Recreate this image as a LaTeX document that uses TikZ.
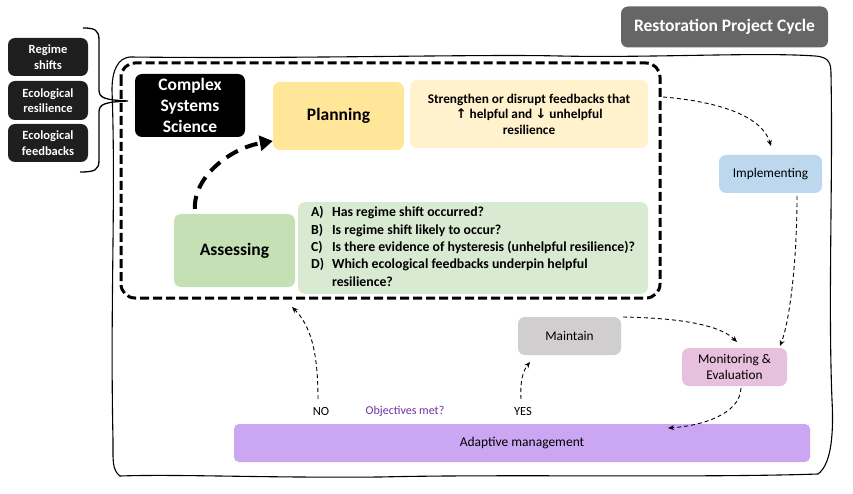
\documentclass[tikz,border=0pt]{standalone}
\usepackage{fontspec}
\setmainfont{Carlito}
\newfontfamily\arrowfont{DejaVu Sans}
\usetikzlibrary{arrows.meta}
\definecolor{titlegray}{HTML}{666666}
\definecolor{planfill}{HTML}{FFE699}
\definecolor{planlight}{HTML}{FFF2CC}
\definecolor{assfill}{HTML}{C5E0B4}
\definecolor{asslight}{HTML}{D9EAD3}
\definecolor{implfill}{HTML}{BDD7EE}
\definecolor{maintfill}{HTML}{D0CECE}
\definecolor{monfill}{HTML}{E6C0DC}
\definecolor{adaptfill}{HTML}{CBA6F3}
\definecolor{objpurple}{HTML}{7030A0}
\tikzset{
  box/.style={rounded corners=7pt, inner sep=2pt, align=center, text=black},
  blackbox/.style={box, fill=black!88, text=white, font=\bfseries\fontsize{12.5}{15.5}\selectfont},
  thinarrow/.style={draw=black, line width=0.9pt, dash pattern=on 4pt off 3pt, -{Stealth[length=6pt,width=5pt]}},
  thickarrow/.style={draw=black, line width=4pt, dash pattern=on 13pt off 8pt, -{Triangle[length=13pt,width=15pt]}},
  lbl/.style={font=\fontsize{12.5}{14}\selectfont, inner sep=0pt}
}
\begin{document}
\begin{tikzpicture}[x=1pt,y=-1pt]
\useasboundingbox (0,0) rectangle (853,494);
\fill[white] (0,0) rectangle (853,494);

% outer hand-drawn frame
\draw[line width=1.1pt, black]
  (130,57) .. controls (300,59) and (480,54) .. (560,56)
  .. controls (650,58) and (760,52) .. (815,56)
  .. controls (830,57) and (831,64) .. (831,75)
  .. controls (833,180) and (828,300) .. (832,400)
  .. controls (834,440) and (830,465) .. (818,474)
  .. controls (700,478) and (500,474) .. (380,477)
  .. controls (260,478) and (180,474) .. (120,476)
  .. controls (112,470) and (113,460) .. (113,440)
  .. controls (110,300) and (116,200) .. (112,90)
  .. controls (112,70) and (118,58) .. (130,57) -- cycle;

% dashed inner frame
\draw[line width=3pt, dash pattern=on 9pt off 4pt, rounded corners=14pt]
  (121,63) rectangle (660,298);

% title
\node[box, fill=titlegray, text=white, minimum width=207pt, minimum height=41pt,
      font=\bfseries\fontsize{17.5}{20}\selectfont] (title) at (724.5,27) {Restoration Project Cycle};

% left concept boxes
\node[blackbox, minimum width=80pt, minimum height=38pt] (rs) at (48,57) {Regime\\shifts};
\node[blackbox, minimum width=80pt, minimum height=39pt] (er) at (48,100.5) {Ecological\\resilience};
\node[blackbox, minimum width=80pt, minimum height=38pt] (ef) at (48,143) {Ecological\\feedbacks};
\coordinate (brtip) at (128,101);
\draw[line width=1.3pt]
  (83,28) .. controls (95,28) and (99,30) .. (99,40)
  -- (99,90) .. controls (99,98) and (105,100) .. (brtip)
  .. controls (105,102) and (99,104) .. (99,112)
  -- (99,160) .. controls (99,170) and (95,172) .. (80,172);

% complex systems science
\node[box, fill=black, text=white, minimum width=110pt, minimum height=63pt,
      font=\bfseries\fontsize{17.5}{21}\selectfont] (css) at (190,105.5) {Complex\\Systems\\Science};

% planning
\node[box, fill=planfill, minimum width=131pt, minimum height=68pt,
      font=\bfseries\fontsize{17.5}{20}\selectfont] (plan) at (338.5,116) {Planning};
\node[box, fill=planlight, minimum width=238pt, minimum height=68pt,
      font=\bfseries\fontsize{13.3}{15.5}\selectfont] (strength) at (529,114)
  {Strengthen or disrupt feedbacks that\\{\arrowfont↑} helpful and {\arrowfont↓} unhelpful\\resilience};

% assessing
\node[box, fill=assfill, minimum width=121pt, minimum height=73pt,
      font=\bfseries\fontsize{17.5}{20}\selectfont] (assess) at (234.5,250.5) {Assessing};
\node[box, fill=asslight, minimum width=350pt, minimum height=84pt, align=left,
      font=\bfseries\fontsize{13.8}{17.5}\selectfont] (quest) at (473,248)
  {\begin{tabular}{@{}l@{\hspace{8pt}}l@{}}
   A) & Has regime shift occurred?\\
   B) & Is regime shift likely to occur?\\
   C) & Is there evidence of hysteresis (unhelpful resilience)?\\
   D) & Which ecological feedbacks underpin helpful\\
      & resilience?
   \end{tabular}};

% cycle steps
\node[box, fill=implfill, minimum width=103pt, minimum height=38pt,
      font=\fontsize{13.3}{15}\selectfont] (impl) at (770.5,174) {Implementing};
\node[box, fill=maintfill, minimum width=103pt, minimum height=38pt,
      font=\fontsize{13.3}{15}\selectfont] (maint) at (569.5,336) {Maintain};
\node[box, fill=monfill, minimum width=105pt, minimum height=38pt,
      font=\fontsize{13.3}{16}\selectfont] (mon) at (734.5,367) {Monitoring \&\\Evaluation};
\node[box, fill=adaptfill, minimum width=576pt, minimum height=38pt, rounded corners=5pt,
      font=\fontsize{13.5}{15}\selectfont] (adapt) at (522,443) {Adaptive management};

% labels
\node[lbl] (no) at (321,411) {NO};
\node[lbl, text=objpurple, font=\fontsize{12}{13}\selectfont] (obj) at (405,411) {Objectives met?};
\node[lbl] (yes) at (523,411) {YES};

% connectors
\draw[thickarrow] (assess.north west) ++(21,-5) coordinate (tka)
  .. controls (194,175) and (232,148) .. (plan.west |- 0,141);
\coordinate (s1) at (663,97);
\coordinate (s2) at (771,146);
\draw[thinarrow] (s1) .. controls (700,100) and (760,110) .. (s2);
\coordinate (i1) at (797,196);
\coordinate (m1) at (780,346);
\draw[thinarrow] (i1) .. controls (797,260) and (790,320) .. (m1);
\coordinate (mt1) at (623,317);
\coordinate (mt2) at (737,342);
\draw[thinarrow] (mt1) .. controls (680,318) and (720,325) .. (mt2);
\coordinate (mo1) at (741,388);
\coordinate (ad1) at (668,428);
\draw[thinarrow] (mo1) .. controls (740,415) and (700,426) .. (ad1);
\coordinate (no1) at (318,399);
\coordinate (no2) at (292,307);
\draw[thinarrow] (no1) .. controls (318,350) and (310,325) .. (no2);
\coordinate (yes1) at (521,399);
\coordinate (yes2) at (530,362);
\draw[thinarrow] (yes1) .. controls (520,385) and (522,372) .. (yes2);
\end{tikzpicture}
\end{document}
